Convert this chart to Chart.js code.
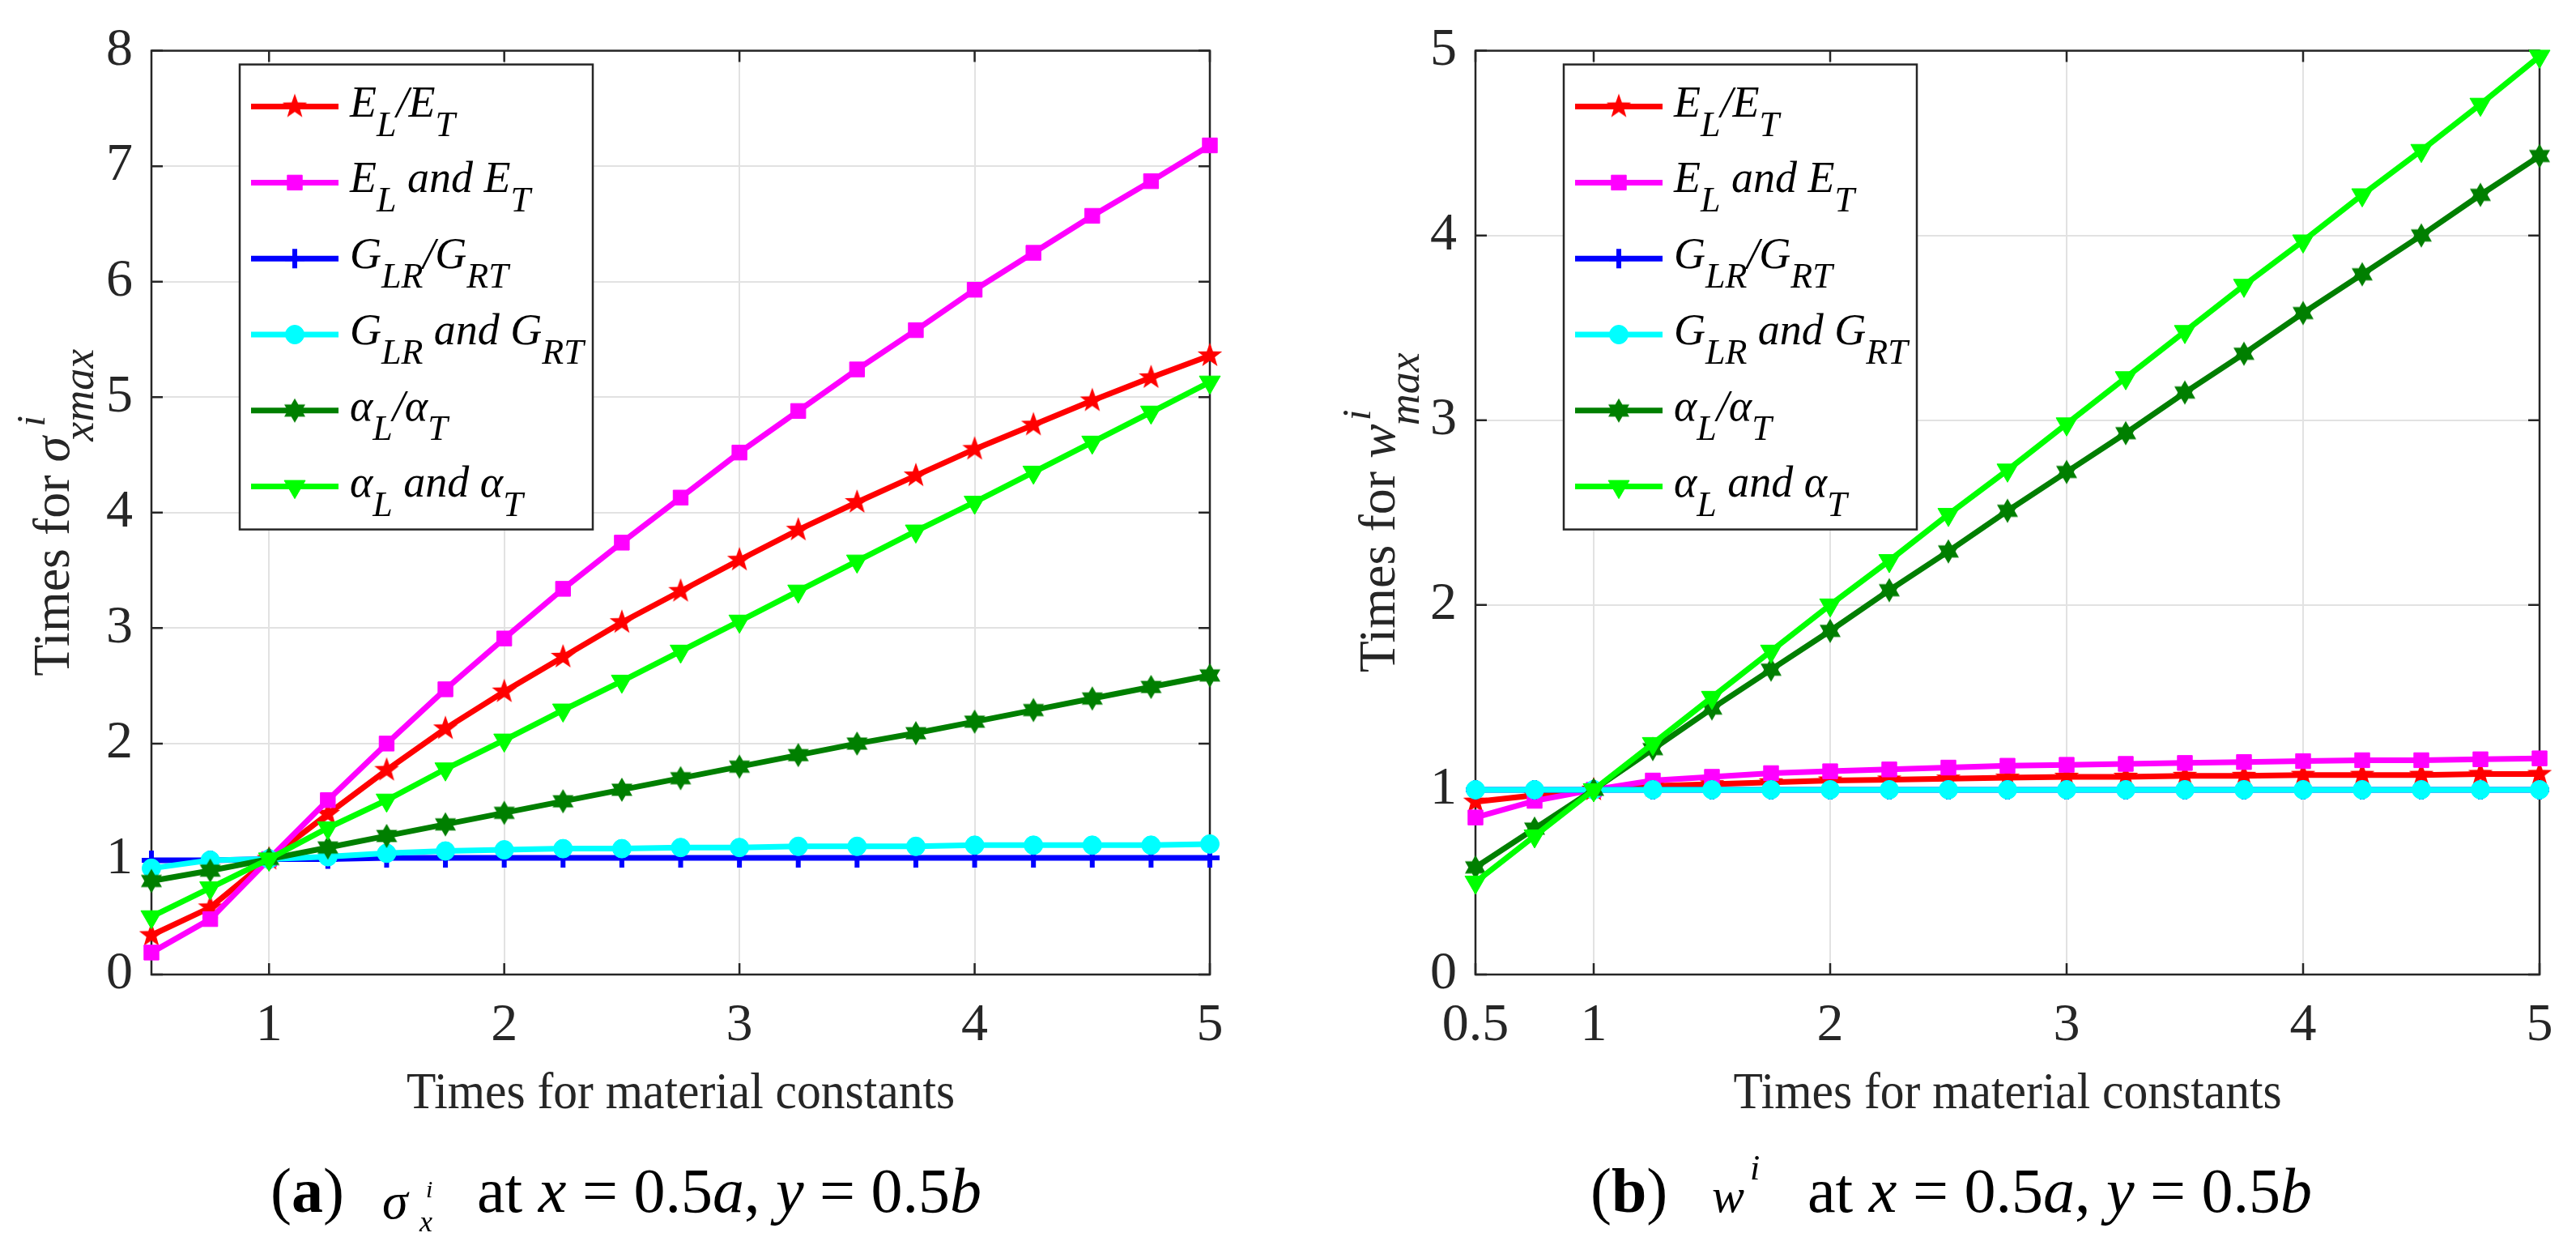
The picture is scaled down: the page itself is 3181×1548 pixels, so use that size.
<!DOCTYPE html>
<html><head><meta charset="utf-8">
<script src="https://cdn.jsdelivr.net/npm/chart.js@4.4.1/dist/chart.umd.min.js"></script>
<style>
html,body{margin:0;padding:0;background:#fff;}
#wrap{position:relative;width:3181px;height:1548px;overflow:hidden;background:#fff;}
canvas{position:absolute;top:0;}
</style></head><body>
<div id="wrap">
<canvas id="ca" width="1590" height="1548" style="left:0;width:1590px;height:1548px"></canvas>
<canvas id="cb" width="1591" height="1548" style="left:1590px;width:1591px;height:1548px"></canvas>
</div>
<script>
// ---------------- data ----------------
const xValues = [0.5,0.75,1,1.25,1.5,1.75,2,2.25,2.5,2.75,3,3.25,3.5,3.75,4,4.25,4.5,4.75,5];
const seriesNames = ['E_{L}/E_{T}','E_{L} and E_{T}','G_{LR}/G_{RT}','G_{LR} and G_{RT}','α_{L}/α_{T}','α_{L} and α_{T}'];
const seriesColors = ['#ff0000','#ff00ff','#0000ff','#00ffff','#007f00','#00ff00'];

// (a) sigma_x max
const sigmaRatioE = [0.34,0.58,1.00,1.39,1.77,2.13,2.45,2.75,3.05,3.32,3.59,3.85,4.09,4.32,4.55,4.76,4.97,5.17,5.36];
const sigmaBothE  = [0.19,0.48,1.00,1.51,2.00,2.47,2.91,3.34,3.74,4.13,4.52,4.88,5.24,5.58,5.93,6.25,6.57,6.87,7.18];
const sigmaRatioG = [0.99,0.99,1.00,1.00,1.01,1.01,1.01,1.01,1.01,1.01,1.01,1.01,1.01,1.01,1.01,1.01,1.01,1.01,1.01];
const sigmaBothG  = [0.92,0.99,1.00,1.02,1.05,1.07,1.08,1.09,1.09,1.10,1.10,1.11,1.11,1.11,1.12,1.12,1.12,1.12,1.13];
const sigmaRatioA = [0.81,0.90,1.00,1.10,1.20,1.30,1.40,1.50,1.60,1.70,1.80,1.90,2.00,2.09,2.19,2.29,2.39,2.49,2.59];
const sigmaBothA  = [0.50,0.75,1.00,1.27,1.51,1.78,2.03,2.29,2.54,2.80,3.06,3.32,3.58,3.84,4.09,4.35,4.61,4.87,5.13];

// (b) w max
const wRatioE = [0.935,0.97,1.00,1.02,1.03,1.04,1.05,1.055,1.06,1.065,1.07,1.07,1.075,1.075,1.08,1.08,1.08,1.085,1.085];
const wBothE  = [0.85,0.94,1.00,1.05,1.07,1.09,1.10,1.11,1.12,1.13,1.135,1.14,1.145,1.15,1.155,1.16,1.16,1.165,1.17];
const wRatioG = [1.00,1.00,1.00,1.00,1.00,1.00,1.00,1.00,1.00,1.00,1.00,1.00,1.00,1.00,1.00,1.00,1.00,1.00,1.00];
const wBothG  = [1.00,1.00,1.00,1.00,1.00,1.00,1.00,1.00,1.00,1.00,1.00,1.00,1.00,1.00,1.00,1.00,1.00,1.00,1.00];
const wRatioA = [0.58,0.79,1.00,1.22,1.44,1.65,1.86,2.08,2.29,2.51,2.72,2.93,3.15,3.36,3.58,3.79,4.00,4.22,4.43];
const wBothA  = [0.50,0.75,1.00,1.25,1.50,1.75,2.00,2.24,2.49,2.73,2.98,3.23,3.48,3.73,3.97,4.22,4.46,4.71,4.97];

const xTicksA = [1,2,3,4,5];
const xTicksB = [0.5,1,2,3,4,5];
const yTicksA = [0,1,2,3,4,5,6,7,8];
const yTicksB = [0,1,2,3,4,5];
const xTitle = 'Times for material constants';

// ---------------- markers ----------------
function starCanvas(n, outer, inner, color) {
  const s = 2 * Math.ceil(outer) + 2;
  const c = document.createElement('canvas');
  c.width = s; c.height = s;
  const g = c.getContext('2d');
  g.fillStyle = color;
  g.beginPath();
  for (let i = 0; i < 2 * n; i++) {
    const r = i % 2 === 0 ? outer : inner;
    const ang = -Math.PI / 2 + i * Math.PI / n;
    const px = s / 2 + r * Math.cos(ang), py = s / 2 + r * Math.sin(ang);
    if (i === 0) g.moveTo(px, py); else g.lineTo(px, py);
  }
  g.closePath(); g.fill();
  return c;
}
const pentagram = starCanvas(5, 16, 6.5, seriesColors[0]);
const hexagram = starCanvas(6, 15, 8.7, seriesColors[4]);
const markerStyles = [
  {pointStyle: pentagram, pointRadius: 15, pointBorderWidth: 0, pointRotation: 0},
  {pointStyle: 'rect', pointRadius: 13, pointBorderWidth: 1, pointRotation: 0},
  {pointStyle: 'cross', pointRadius: 12, pointBorderWidth: 6, pointRotation: 0},
  {pointStyle: 'circle', pointRadius: 11.5, pointBorderWidth: 1, pointRotation: 0},
  {pointStyle: hexagram, pointRadius: 15, pointBorderWidth: 0, pointRotation: 0},
  {pointStyle: 'triangle', pointRadius: 15, pointBorderWidth: 1, pointRotation: 180}
];

function makeDatasets(arrs) {
  return arrs.map((arr, i) => Object.assign({
    label: seriesNames[i],
    data: xValues.map((x, k) => ({x: x, y: arr[k]})),
    borderColor: seriesColors[i],
    backgroundColor: seriesColors[i],
    pointBackgroundColor: seriesColors[i],
    pointBorderColor: seriesColors[i],
    borderWidth: 7,
    tension: 0,
    clip: false,
    order: arrs.length - i
  }, markerStyles[i]));
}

// ---------------- rich text ----------------
const SERIF = '"Liberation Serif", "Times New Roman", serif';
function parseTex(s) {
  const out = []; const re = /_\{([^}]*)\}/g; let last = 0, m;
  while ((m = re.exec(s)) !== null) {
    if (m.index > last) out.push({t: s.slice(last, m.index), sub: false});
    out.push({t: m[1], sub: true}); last = re.lastIndex;
  }
  if (last < s.length) out.push({t: s.slice(last), sub: false});
  return out;
}
// segs: {t, f, dy, dx, stack, at}
function layoutRich(ctx, segs) {
  let cx = 0; const items = [];
  for (const s of segs) {
    ctx.font = s.f;
    const w = ctx.measureText(s.t).width;
    if (s.at !== undefined) cx = s.at;
    const x = cx + (s.dx || 0);
    items.push({s, x});
    if (!s.stack) cx = x + w;
  }
  return {items, width: cx};
}
function drawRich(ctx, segs, x, y, align) {
  const L = layoutRich(ctx, segs);
  const x0 = align === 'center' ? x - L.width / 2 : x;
  ctx.textAlign = 'left';
  ctx.textBaseline = 'alphabetic';
  for (const it of L.items) {
    ctx.font = it.s.f;
    ctx.fillText(it.s.t, x0 + it.x, y + (it.s.dy || 0));
  }
}

function makeDecor(cfg) {
  return {
    id: 'decor_' + cfg.name,
    beforeDatasetsDraw(chart) {
      const ctx = chart.ctx, a = chart.chartArea;
      const xs = chart.scales.x, ys = chart.scales.y;
      ctx.save();
      ctx.strokeStyle = '#262626';
      ctx.lineWidth = 2.5;
      ctx.strokeRect(a.left, a.top, a.right - a.left, a.bottom - a.top);
      ctx.beginPath();
      cfg.xTicks.forEach(v => {
        const px = xs.getPixelForValue(v);
        ctx.moveTo(px, a.bottom); ctx.lineTo(px, a.bottom - 14);
        ctx.moveTo(px, a.top); ctx.lineTo(px, a.top + 14);
      });
      cfg.yTicks.forEach(v => {
        const py = ys.getPixelForValue(v);
        ctx.moveTo(a.left, py); ctx.lineTo(a.left + 14, py);
        ctx.moveTo(a.right, py); ctx.lineTo(a.right - 14, py);
      });
      ctx.stroke();
      ctx.restore();
    },
    afterDatasetsDraw(chart) {
      const ctx = chart.ctx, a = chart.chartArea;
      const L = a.left + 109, T = a.top + 17, W = 436, H = 574;
      ctx.save();
      ctx.fillStyle = '#ffffff';
      ctx.fillRect(L, T, W, H);
      ctx.strokeStyle = '#262626';
      ctx.lineWidth = 2.5;
      ctx.strokeRect(L, T, W, H);
      chart.data.datasets.forEach((ds, i) => {
        const y = T + 52 + i * 93.8;
        ctx.strokeStyle = ds.borderColor;
        ctx.lineWidth = ds.borderWidth;
        ctx.beginPath(); ctx.moveTo(L + 14, y); ctx.lineTo(L + 122, y); ctx.stroke();
        ctx.fillStyle = ds.pointBackgroundColor;
        ctx.strokeStyle = ds.pointBorderColor;
        ctx.lineWidth = ds.pointBorderWidth;
        Chart.helpers.drawPoint(ctx, {pointStyle: ds.pointStyle, radius: ds.pointRadius, rotation: ds.pointRotation, borderWidth: ds.pointBorderWidth}, L + 68, y);
        ctx.fillStyle = '#000000';
        const segs = parseTex(ds.label).map(p => p.sub
          ? {t: p.t, f: 'italic 44px ' + SERIF, dy: 24}
          : {t: p.t, f: 'italic 54px ' + SERIF, dy: 0});
        drawRich(ctx, segs, L + 136, y + 12, 'left');
      });
      ctx.restore();
    },
    afterDraw(chart) {
      const ctx = chart.ctx, a = chart.chartArea;
      ctx.save();
      ctx.fillStyle = '#262626';
      // x title
      ctx.font = '64px ' + SERIF;
      ctx.textAlign = 'center'; ctx.textBaseline = 'alphabetic';
      ctx.translate((a.left + a.right) / 2, a.bottom + 165);
      ctx.scale(0.93, 1);
      ctx.fillText(xTitle, 0, 0);
      ctx.restore();
      // y title
      ctx.save();
      ctx.fillStyle = '#262626';
      ctx.translate(a.left + cfg.yTitleOffset, (a.top + a.bottom) / 2);
      ctx.rotate(-Math.PI / 2);
      drawRich(ctx, cfg.yTitle, 0, 0, 'center');
      ctx.restore();
      // caption
      ctx.save();
      ctx.fillStyle = '#000000';
      drawRich(ctx, cfg.caption, a.left + cfg.captionOffset, 1496, 'left');
      ctx.restore();
    }
  };
}

function makeChart(id, cfg) {
  const tickFont = {family: SERIF, size: 66};
  return new Chart(document.getElementById(id), {
    type: 'line',
    data: {datasets: makeDatasets(cfg.series)},
    options: {
      responsive: false, animation: false, devicePixelRatio: 1,
      layout: {padding: {top: 52, right: cfg.padRight, bottom: 0, left: 0}},
      plugins: {legend: {display: false}, tooltip: {enabled: false}},
      scales: {
        x: {
          type: 'linear', min: 0.5, max: 5,
          afterBuildTicks: s => { s.ticks = cfg.xTicks.map(v => ({value: v})); },
          afterFit: s => { s.height = 345; },
          ticks: {font: tickFont, color: '#262626', padding: 24, autoSkip: false, maxRotation: 0, callback: v => String(v)},
          grid: {color: '#e2e2e2', lineWidth: 2, drawTicks: false},
          border: {display: false}
        },
        y: {
          type: 'linear', min: 0, max: cfg.yMax,
          afterBuildTicks: s => { s.ticks = cfg.yTicks.map(v => ({value: v})); },
          afterFit: s => { s.width = cfg.yWidth; },
          ticks: {font: tickFont, color: '#262626', padding: 23, callback: v => String(v)},
          grid: {color: '#e2e2e2', lineWidth: 2, drawTicks: false},
          border: {display: false}
        }
      }
    },
    plugins: [makeDecor(cfg)]
  });
}

const R64 = '64px ' + SERIF, I64 = 'italic 64px ' + SERIF;
makeChart('ca', {
  name: 'a',
  series: [sigmaRatioE, sigmaBothE, sigmaRatioG, sigmaBothG, sigmaRatioA, sigmaBothA],
  xTicks: xTicksA, yTicks: yTicksA, yMax: 8, yWidth: 187, padRight: 96,
  yTitleOffset: -102,
  yTitle: [
    {t: 'Times for ', f: R64},
    {t: 'σ', f: I64},
    {t: 'i', f: 'italic 50px ' + SERIF, dy: -30, dx: 12, stack: true},
    {t: 'xmax', f: 'italic 54px ' + SERIF, dy: 30, dx: -6}
  ],
  captionOffset: 147,
  caption: [
    {t: '(', f: '78px ' + SERIF}, {t: 'a', f: 'bold 78px ' + SERIF}, {t: ')', f: '78px ' + SERIF},
    {t: 'σ', f: 'italic 64px ' + SERIF, at: 138, dy: 8},
    {t: 'i', f: 'italic 30px ' + SERIF, at: 192, dy: -18},
    {t: 'x', f: 'italic 36px ' + SERIF, at: 184, dy: 24},
    {t: 'at ', f: '78px ' + SERIF, at: 255}, {t: 'x', f: 'italic 78px ' + SERIF},
    {t: ' = 0.5', f: '78px ' + SERIF}, {t: 'a', f: 'italic 78px ' + SERIF},
    {t: ', ', f: '78px ' + SERIF}, {t: 'y', f: 'italic 78px ' + SERIF},
    {t: ' = 0.5', f: '78px ' + SERIF}, {t: 'b', f: 'italic 78px ' + SERIF}
  ]
});
makeChart('cb', {
  name: 'b',
  series: [wRatioE, wBothE, wRatioG, wBothG, wRatioA, wBothA],
  xTicks: xTicksB, yTicks: yTicksB, yMax: 5, yWidth: 232, padRight: 45,
  yTitleOffset: -100,
  yTitle: [
    {t: 'Times for ', f: R64},
    {t: 'w', f: I64},
    {t: 'i', f: 'italic 50px ' + SERIF, dy: -30, dx: 4, stack: true},
    {t: 'max', f: 'italic 54px ' + SERIF, dy: 30, dx: -2}
  ],
  captionOffset: 142,
  caption: [
    {t: '(', f: '78px ' + SERIF}, {t: 'b', f: 'bold 78px ' + SERIF}, {t: ')', f: '78px ' + SERIF},
    {t: 'w', f: 'italic 60px ' + SERIF, at: 150},
    {t: 'i', f: 'italic 44px ' + SERIF, at: 197, dy: -40},
    {t: 'at ', f: '78px ' + SERIF, at: 268}, {t: 'x', f: 'italic 78px ' + SERIF},
    {t: ' = 0.5', f: '78px ' + SERIF}, {t: 'a', f: 'italic 78px ' + SERIF},
    {t: ', ', f: '78px ' + SERIF}, {t: 'y', f: 'italic 78px ' + SERIF},
    {t: ' = 0.5', f: '78px ' + SERIF}, {t: 'b', f: 'italic 78px ' + SERIF}
  ]
});
</script>
</body></html>
